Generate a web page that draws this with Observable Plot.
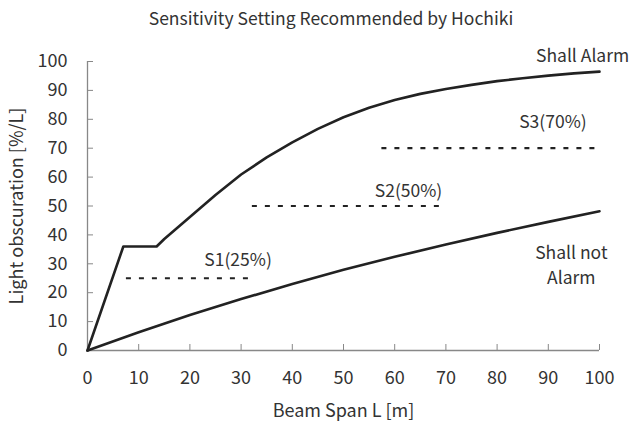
<!DOCTYPE html>
<html>
<head>
<meta charset="utf-8">
<script src="https://cdn.jsdelivr.net/npm/d3@7"></script>
<script src="https://cdn.jsdelivr.net/npm/@observablehq/plot@0.6"></script>
<style>
  html, body { margin: 0; padding: 0; background: #fff; }
  body { width: 634px; height: 421px; overflow: hidden; font-family: "Noto Sans CJK JP", "Noto Sans", sans-serif; color: #333; }
  #title { height: 30px; line-height: 36px; font-size: 17.5px; text-align: center; padding-left: 28px; box-sizing: border-box; }
</style>
</head>
<body>
<div id="title">Sensitivity Setting Recommended by Hochiki</div>
<div id="chart"></div>
<script>
// Upper boundary ("Shall Alarm")
const alarmX = [0, 7, 13.5, 15, 20, 25, 30, 35, 40, 45, 50, 55, 60, 65, 70, 75, 80, 85, 90, 95, 100];
const alarmY = [0, 36, 36, 38.6, 46.2, 53.8, 60.9, 66.8, 72.0, 76.7, 80.7, 84.0, 86.7, 88.8, 90.5, 91.9, 93.2, 94.2, 95.1, 95.9, 96.5];
// Lower boundary ("Shall not Alarm")
const noAlarmX = [0, 10, 20, 30, 40, 50, 60, 70, 80, 90, 100];
const noAlarmY = [0, 6.3, 12.3, 17.8, 23.0, 27.9, 32.4, 36.7, 40.7, 44.5, 48.2];
// Sensitivity settings (dashed levels)
const settingNames = ["S1(25%)", "S2(50%)", "S3(70%)"];
const settingLevel = [25, 50, 70];
const settingFrom = [7.6, 32.2, 57.5];
const settingTo = [32.8, 68.8, 100];
const settingLabelX = [29.4, 62.7, 90.9];
const settingLabelY = [31.3, 54.9, 79];
// Region labels
const regionNames = ["Shall Alarm", "Shall not\nAlarm"];
const regionX = [96.7, 94.5];
const regionY = [102.8, 30.1];
// Ticks
const xTicks = [0, 10, 20, 30, 40, 50, 60, 70, 80, 90, 100];
const yTicks = [0, 10, 20, 30, 40, 50, 60, 70, 80, 90, 100];

const alarm = alarmX.map((x, i) => ({x, y: alarmY[i]}));
const noAlarm = noAlarmX.map((x, i) => ({x, y: noAlarmY[i]}));
const settings = settingNames.map((name, i) => ({name, y: settingLevel[i], x1: settingFrom[i], x2: settingTo[i], lx: settingLabelX[i], ly: settingLabelY[i]}));
const regions = regionNames.map((name, i) => ({name, x: regionX[i], y: regionY[i]}));

const font = "'Noto Sans CJK JP', 'Noto Sans', sans-serif";
const chart = Plot.plot({
  width: 634,
  height: 391,
  marginLeft: 87,
  marginRight: 35,
  marginTop: 31,
  marginBottom: 71,
  style: {fontFamily: font, fontSize: "18px", color: "#333", background: "#fff", overflow: "visible"},
  x: {domain: [0, 100]},
  y: {domain: [0, 100]},
  marks: [
    Plot.ruleX([0], {stroke: "#888", strokeWidth: 1.3}),
    Plot.ruleY([0], {stroke: "#888", strokeWidth: 1.3}),
    Plot.axisX(xTicks, {tickSize: -6, tickFormat: () => "", stroke: "#888", label: null}),
    Plot.axisY(yTicks, {tickSize: -6, tickFormat: () => "", stroke: "#888", label: null}),
    Plot.axisX(xTicks, {tickSize: 0, tickPadding: 21, fontSize: 18, fill: "#333", label: "Beam Span L [m]", labelAnchor: "center", labelArrow: "none", labelOffset: 66}),
    Plot.axisY(yTicks, {tickSize: 0, tickPadding: 20, fontSize: 18, fill: "#333", label: "Light obscuration [%/L]", labelAnchor: "center", labelArrow: "none", labelOffset: 77}),
    Plot.ruleY(settings, {y: "y", x1: "x1", x2: "x2", stroke: "#222", strokeWidth: 2.2, strokeDasharray: "5,8"}),
    Plot.line(alarm, {x: "x", y: "y", stroke: "#222", strokeWidth: 2.6}),
    Plot.line(noAlarm, {x: "x", y: "y", stroke: "#222", strokeWidth: 2.6}),
    Plot.text(settings, {x: "lx", y: "ly", text: "name", fontSize: 17.5, fill: "#333"}),
    Plot.text(regions, {x: "x", y: "y", text: "name", fontSize: 17.5, fill: "#333", lineHeight: 1.45})
  ]
});
document.getElementById("chart").appendChild(chart);
</script>
</body>
</html>
